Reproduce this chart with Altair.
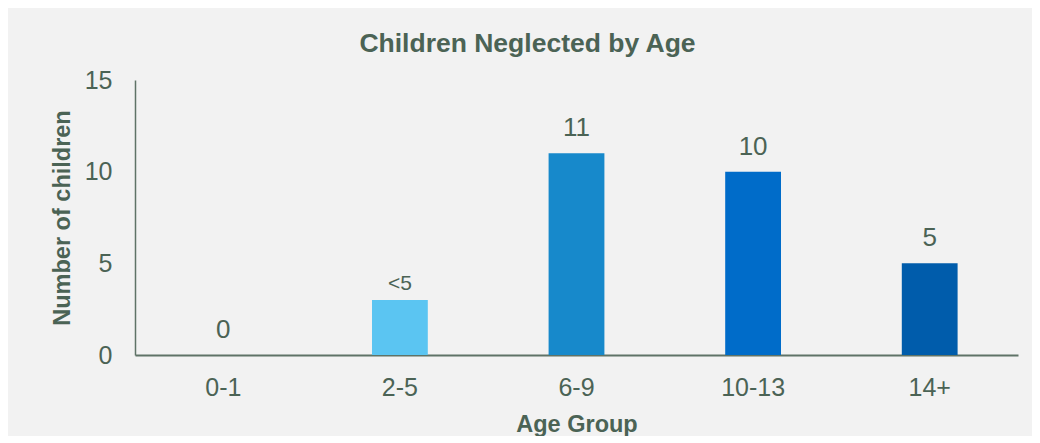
import altair as alt
import pandas as pd

categories = ["0-1", "2-5", "6-9", "10-13", "14+"]
values = [0, 3, 11, 10, 5]
labels = ["0", "<5", "11", "10", "5"]
bar_colors = ["#9ddcf9", "#5bc5f2", "#1789cb", "#006cc9", "#005cab"]
y_ticks = [0, 5, 10, 15]

df = pd.DataFrame({"age": categories, "count": values, "label": labels})

TXT = "#4b6355"
FONT = "Liberation Sans"

x_enc = alt.X(
    "age:N",
    sort=categories,
    scale=alt.Scale(paddingInner=0.684, paddingOuter=0.342),
    axis=alt.Axis(
        title="Age Group",
        labelAngle=0,
        labelFontSize=25,
        labelColor=TXT,
        labelFont=FONT,
        labelPadding=20,
        ticks=False,
        tickSize=0,
        domainColor="#5f7367",
        domainWidth=2,
        titleFontSize=23.5,
        titleFont=FONT,
        titleFontWeight="bold",
        titleColor=TXT,
        titleY=76,
        titleBaseline="alphabetic",
    ),
)
y_enc = alt.Y(
    "count:Q",
    scale=alt.Scale(domain=[0, 15], nice=False),
    axis=alt.Axis(
        title="Number of children",
        values=y_ticks,
        grid=False,
        ticks=False,
        tickSize=0,
        labelFontSize=25,
        labelColor=TXT,
        labelFont=FONT,
        labelPadding=23,
        domainColor="#5f7367",
        domainWidth=1.5,
        titleFontSize=23.5,
        titleFont=FONT,
        titleFontWeight="bold",
        titleColor=TXT,
        titleX=-73,
        titleY=137.5,
        titleAngle=270,
        titleAlign="center",
        titleBaseline="middle",
    ),
)

base = alt.Chart(df)

bars = base.mark_bar().encode(
    x=x_enc,
    y=y_enc,
    color=alt.Color("age:N", scale=alt.Scale(domain=categories, range=bar_colors), legend=None),
)

text_main = base.transform_filter(alt.datum.label != "<5").mark_text(
    baseline="alphabetic", dy=-17, fontSize=26, font=FONT, color=TXT
).encode(x=alt.X("age:N", sort=categories), y="count:Q", text="label:N")

text_small = base.transform_filter(alt.datum.label == "<5").mark_text(
    baseline="alphabetic", dy=-10, fontSize=21, font=FONT, color=TXT
).encode(x=alt.X("age:N", sort=categories), y="count:Q", text="label:N")

chart = (
    alt.layer(bars, text_main, text_small)
    .properties(
        width=883,
        height=275,
        title=alt.TitleParams(
            "Children Neglected by Age",
            fontSize=26.5,
            font=FONT,
            fontWeight="bold",
            color=TXT,
            anchor="middle",
            dx=-49,
            dy=38,
            baseline="alphabetic",
            offset=28,
        ),
        autosize=alt.AutoSizeParams(type="none"),
        padding={"left": 127, "top": 72, "right": 14, "bottom": 81},
    )
    .configure(background="#f2f2f2")
    .configure_view(stroke=None)
)

chart.save("out.html", embed_options={"renderer": "svg", "actions": False})
